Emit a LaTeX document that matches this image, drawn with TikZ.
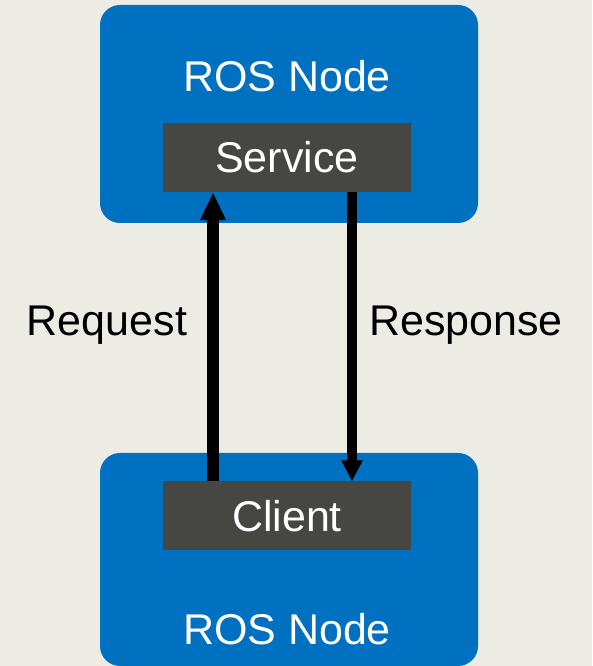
\documentclass[tikz,border=0pt]{standalone}
\usepackage{fontspec}
\setmainfont{Liberation Sans}
\usetikzlibrary{arrows.meta}
\definecolor{bgtan}{HTML}{EDECE4}
\definecolor{rosblue}{HTML}{0070C0}
\definecolor{darkbox}{HTML}{464743}
\tikzset{
  rosnode/.style={fill=rosblue, rounded corners=20pt},
  endpoint/.style={fill=darkbox, draw=none, minimum width=248pt, minimum height=69pt, inner sep=0pt},
  lbl/.style={font=\fontsize{43}{47}\selectfont, inner sep=0pt},
  wlbl/.style={lbl, text=white},
}
\begin{document}
\begin{tikzpicture}[x=1pt,y=1pt]
  % canvas
  \fill[bgtan] (0,0) rectangle (592,666);
  \useasboundingbox (0,0) rectangle (592,666);
  % the two ROS nodes
  \fill[rosnode] (100,443) rectangle (478,661);
  \fill[rosnode] (100,0) rectangle (478,213);
  \node[wlbl] (topname) at (287,590) {ROS Node};
  \node[wlbl] (botname) at (287,37) {ROS Node};
  % service and client
  \node[endpoint] (service) at (287,508.5) {};
  \node[wlbl] at (service.center) {Service};
  \node[endpoint] (client) at (287,150) {};
  \node[wlbl] at (client.center) {Client};
  % request / response
  \coordinate (reqS) at ([xshift=-74pt]client.north);
  \coordinate (reqE) at ([xshift=-74pt]service.south);
  \coordinate (resS) at ([xshift=65pt]service.south);
  \coordinate (resE) at ([xshift=65pt]client.north);
  \draw[line width=12pt, -{Triangle[width=24pt,length=28pt]}] (reqS) -- (reqE);
  \draw[line width=10pt, -{Triangle[width=20pt,length=21pt]}] (resS) -- (resE);
  \node[lbl] (req) at (107,341) {Request};
  \node[lbl] (res) at (466,341) {Response};
\end{tikzpicture}
\end{document}
